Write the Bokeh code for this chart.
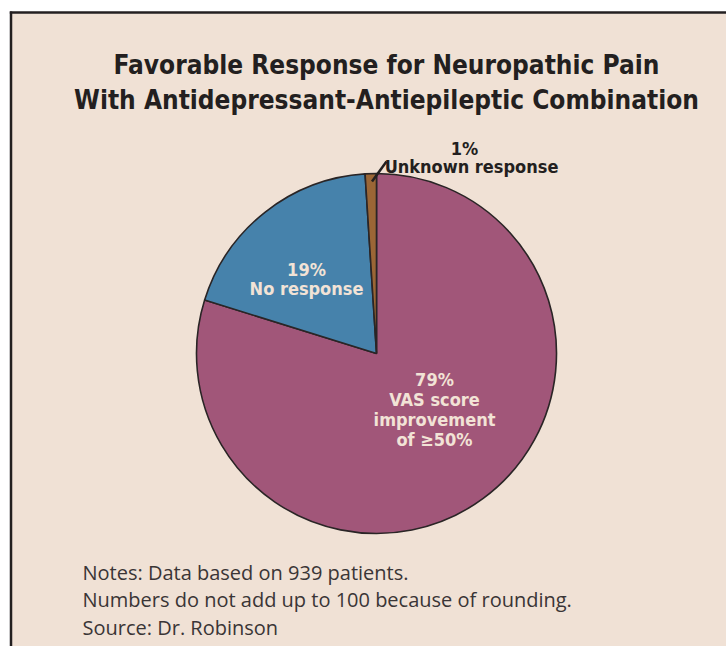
import numpy as np
from bokeh.plotting import figure
from bokeh.models import Range1d
from bokeh.core.properties import value
from bokeh.embed import file_html
from bokeh.resources import INLINE

# ---- data ----
categories = ["VAS score improvement of \u226550%", "No response", "Unknown response"]
percents = [79, 19, 1]
slice_colors = ["#a15679", "#4682ab", "#9b6636"]
title_lines = ["Favorable Response for Neuropathic Pain",
               "With Antidepressant-Antiepileptic Combination"]
note_lines = ["Notes: Data based on 939 patients.",
              "Numbers do not add up to 100 because of rounding.",
              "Source: Dr. Robinson"]

W, H = 726, 646
BG = "#f0e1d5"
DARK = "#231f20"
CREAM = "#f2e3d6"
COND = "DejaVu Sans Condensed, sans-serif"
NOTE_FONT = "Open Sans, sans-serif"

def fx(px):
    return px

def fy(py):
    return H - py

p = figure(width=W, height=H, output_backend="svg", toolbar_location=None,
           x_range=Range1d(0, W), y_range=Range1d(0, H), min_border=0,
           background_fill_color="white", border_fill_color="white")
p.axis.visible = False
p.grid.visible = False
p.outline_line_color = None

# panel background + border (left and top)
p.quad(left=[fx(11)], right=[W + 5], bottom=[-5], top=[fy(12)],
       fill_color=BG, line_color=None)
p.segment(x0=[fx(10.5)], y0=[fy(11)], x1=[fx(10.5)], y1=[-5],
          line_color=DARK, line_width=2.5)
p.segment(x0=[fx(9.3)], y0=[fy(12)], x1=[W + 5], y1=[fy(12)],
          line_color=DARK, line_width=2.5)

# title
p.text(x=[fx(386), fx(386)], y=[fy(64), fy(99)], text=title_lines,
       text_font=value(COND), text_font_style="bold", text_font_size="26px",
       text_color=DARK, text_align="center", text_baseline="alphabetic")

# pie
cx, cy, R = fx(376), fy(353), 180
vals = np.array(percents, dtype=float)
fr = vals / vals.sum()
cum = np.concatenate([[0], np.cumsum(fr)])
starts = np.pi / 2 - 2 * np.pi * cum[:-1]
ends = np.pi / 2 - 2 * np.pi * cum[1:]
p.wedge(x=[cx] * 3, y=[cy] * 3, radius=R, start_angle=list(starts),
        end_angle=list(ends), direction="clock", fill_color=slice_colors,
        line_color="#2a2526", line_width=1.6)

# slice labels
LBL = "18px"
lab_main = [f"{percents[0]}%", "VAS score", "improvement", "of \u226550%"]
p.text(x=[fx(434)] * 4, y=[fy(379), fy(399), fy(419), fy(439)], text=lab_main,
       text_font=value(COND), text_font_style="bold", text_font_size=LBL,
       text_color=CREAM, text_align="center", text_baseline="alphabetic")
lab_no = [f"{percents[1]}%", categories[1]]
p.text(x=[fx(306)] * 2, y=[fy(269), fy(288)], text=lab_no,
       text_font=value(COND), text_font_style="bold", text_font_size=LBL,
       text_color=CREAM, text_align="center", text_baseline="alphabetic")
lab_unk = [f"{percents[2]}%", categories[2]]
p.text(x=[fx(464), fx(471)], y=[fy(148), fy(166)], text=lab_unk,
       text_font=value(COND), text_font_style="bold", text_font_size=LBL,
       text_color=DARK, text_align="center", text_baseline="alphabetic")
p.segment(x0=[fx(371.5)], y0=[fy(181)], x1=[fx(386)], y1=[fy(161)],
          line_color=DARK, line_width=2.5)

# notes
p.text(x=[fx(82)] * 3, y=[fy(572), fy(599), fy(627)], text=note_lines,
       text_font=value(NOTE_FONT), text_font_size="20px",
       text_color="#3a3536", text_align="left", text_baseline="alphabetic")

open("out.html", "w").write(file_html(p, INLINE))
